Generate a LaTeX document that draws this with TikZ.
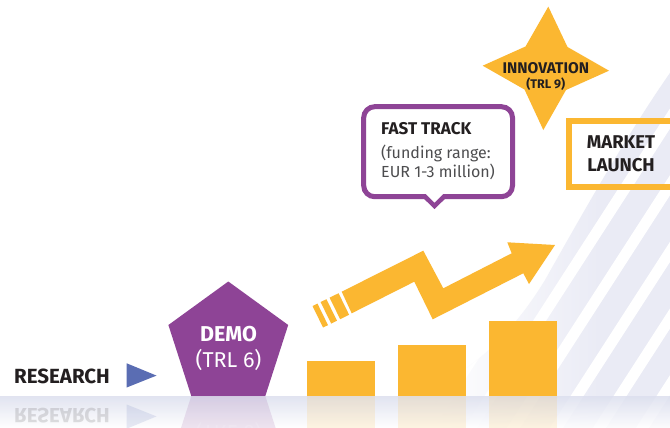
\documentclass[tikz,border=0pt]{standalone}
\usepackage{fontspec}
\setmainfont{Fira Sans}
\definecolor{ecyellow}{HTML}{FBB731}
\definecolor{ecpurple}{HTML}{8E4496}
\definecolor{ecblue}{HTML}{5A6DB3}
\definecolor{ectext}{HTML}{231F20}
\definecolor{ecgray}{HTML}{4D4D4F}
\definecolor{lav}{HTML}{EAEBF5}
\definecolor{floortop}{HTML}{DCDFEE}
\tikzset{
  lbl/.style={inner sep=0pt, text=ectext, font=\bfseries\fontsize{#1}{#1}\selectfont},
  lbl/.default=17,
  reg/.style={inner sep=0pt, text=ecgray, font=\fontsize{#1}{#1}\selectfont},
  reg/.default=17,
  yel/.style={fill=ecyellow},
}
\newcommand\floorobjects[1]{%
  \node[lbl=20.5, anchor=base west] (research#1) at (14,383.3) {RESEARCH};
  \fill[ecblue] (126.7,363.3) -- (156.5,375.6) -- (126.7,387.5) -- cycle;
  \fill[ecpurple] (228.3,281.5) -- (288.2,325) -- (265.3,396) -- (191.3,396) -- (168.4,325) -- cycle;
  \node[lbl=21.5, text=white, anchor=base] (demo#1) at (228.5,341.7) {DEMO};
  \node[reg=21.5, text=white, anchor=base] (trl6#1) at (228.5,367) {(TRL 6)};
  \fill[yel] (307,361) rectangle (375,396);
  \fill[yel] (398,345) rectangle (466,396);
  \fill[yel] (489,321) rectangle (557,396);
}
\begin{document}
\begin{tikzpicture}[x=1pt,y=-1pt]
\useasboundingbox (0,0) rectangle (670,428);
\fill[white] (0,0) rectangle (670,428);
\begin{scope}
  \clip (0,0) rectangle (670,428);
  % background stripes
  \begin{scope}
    \clip (300,428) .. controls (420,410) and (490,370) .. (545,280)
          .. controls (590,200) and (630,130) .. (672,70) -- (672,428) -- cycle;
    \shade[left color=white, right color=lav] (430,0) rectangle (600,428);
    \fill[lav] (599,0) rectangle (672,428);
    \foreach \k in {-7,...,1} {
      \pgfmathsetmacro\c{620+43*\k}
      \fill[white] (\c-6.5-20.6,428) -- (\c+6.5-20.6,428) -- (\c+6.5+255.5,0) -- (\c-6.5+255.5,0) -- cycle;
    }
  \end{scope}

  \floorobjects{}

  % zigzag arrow
  \fill[yel] (341.7,291.7) -- (423.3,250.7) -- (443.3,288.3) -- (511.7,253.3)
    -- (507.3,242.3) -- (555,245) -- (529,284) -- (523.3,273.3)
    -- (432.7,319.3) -- (414.3,281.7) -- (351.7,313.3) -- cycle;
  \fill[yel] (338.56,293.24) -- (329.58,297.64) -- ++(10.56,21.55) -- ++(8.98,-4.40) -- cycle;
  \fill[yel] (326.43,299.18) -- (320.60,302.04) -- ++(10.56,21.55) -- ++(5.83,-2.86) -- cycle;
  \fill[yel] (317.45,303.58) -- (312.51,306.00) -- ++(10.56,21.55) -- ++(4.94,-2.42) -- cycle;

  % fast track callout
  \draw[ecpurple, line width=5pt, fill=white, rounded corners=11pt] (363.7,106.7) rectangle (512.5,196.7);
  \fill[ecpurple] (420,195) -- (434.5,209) -- (449,195) -- cycle;
  \fill[white] (426,194.2) -- (434.5,202.5) -- (443,194.2) -- cycle;
  \node[lbl=17, anchor=base west] (ft) at (381,134.7) {FAST TRACK};
  \node[reg=16, anchor=base west] (fr1) at (381,158) {(funding range:};
  \node[reg=16, anchor=base west] (fr2) at (381,177) {EUR 1-3 million)};

  % innovation star
  \fill[yel] (548.3,6.6) -- (567.5,47) -- (609,70.7) -- (566,90) -- (543.3,130)
    -- (524.5,89.5) -- (482.7,65.7) -- (525.5,46.5) -- cycle;
  \node[lbl=15.5, anchor=base] (inno) at (545.8,73.5) {INNOVATION};
  \node[lbl=12.5, anchor=base] (trl9) at (545.8,88.3) {(TRL 9)};

  % market launch
  \draw[ecyellow, line width=6pt] (568.7,121) rectangle (700,187);
  \node[lbl=18.5, anchor=base] (market) at (621,148.3) {MARKET};
  \node[lbl=18.5, anchor=base] (launch) at (621,171) {LAUNCH};

  % floor
  \shade[top color=floortop, bottom color=white, opacity=0.85] (0,396) rectangle (670,428);
  \begin{scope}
    \clip (0,396) rectangle (670,428);
    \begin{scope}[shift={(0,792)}, yscale=-1, opacity=0.14, every node/.append style={transform shape}]
      \floorobjects{r}
    \end{scope}
  \end{scope}
\end{scope}
\end{tikzpicture}
\end{document}
